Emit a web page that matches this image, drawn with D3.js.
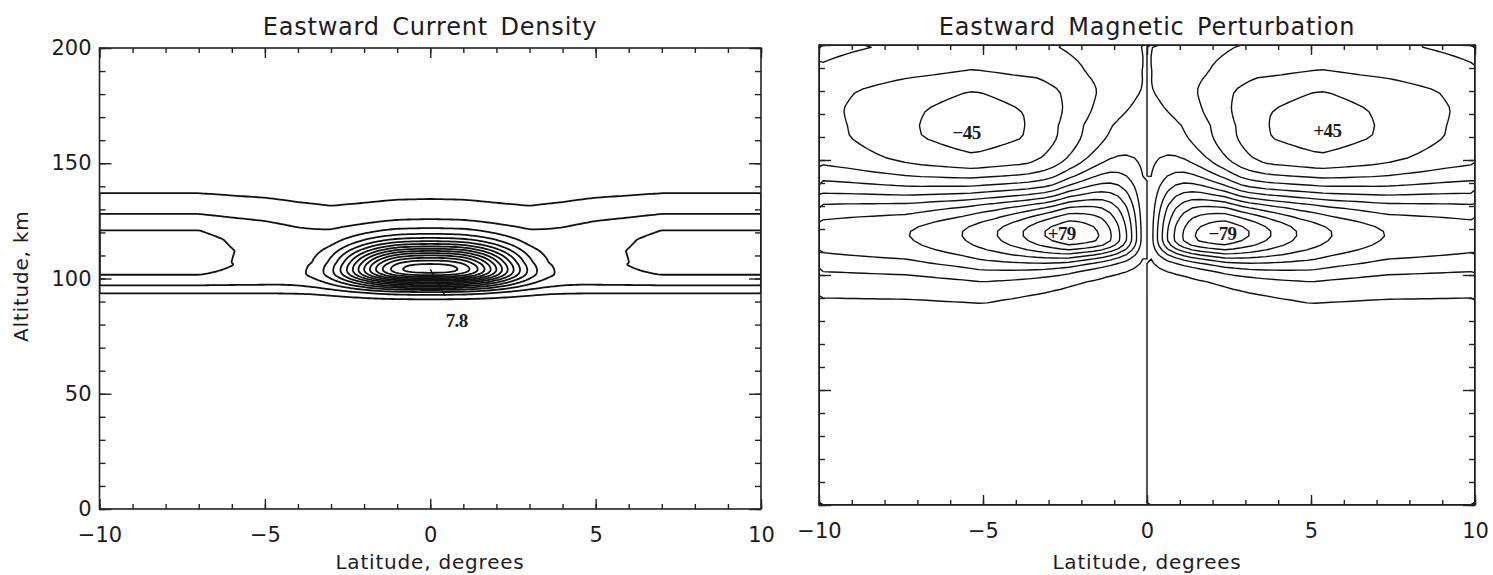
<!DOCTYPE html>
<html>
<head>
<meta charset="utf-8">
<script src="https://cdn.jsdelivr.net/npm/d3@7"></script>
<style>
  html, body { margin: 0; background: #fff; }
  svg text { font-family: "DejaVu Sans", sans-serif; fill: #1c1c1c; }
  .contour { fill: none; stroke: #111; stroke-linejoin: round; }
  .frame { fill: none; stroke: #222; stroke-width: 1.6; }
  .axis path { display: none; }
  .axis line { stroke: #222; stroke-width: 1.4; }
  .lbl { font-family: "Liberation Serif", serif !important; font-weight: bold; font-size: 19px; letter-spacing: -0.6px; }
</style>
</head>
<body>
<svg id="chart" width="1493" height="575"></svg>
<script>
// ---------------- axes ----------------
const latMajorTicks = [-10, -5, 0, 5, 10];
const latMinorTicks = d3.range(-10, 11, 1);
const altMajorTicks = [0, 50, 100, 150, 200];
const altMinorTicks = d3.range(0, 201, 10);

// ---------------- eastward current density ----------------
const currentLevels = d3.range(0.5, 7.51, 0.5);
// layer current at the outer latitudes (altitude profile)
const bandAltKm   = [84, 90, 93.6, 97, 101.5, 106, 112, 117, 121, 128, 137, 146];
const bandCurrent = [0, 0.2, 0.5, 1.0, 1.5, 1.66, 1.68, 1.62, 1.5, 1.0, 0.5, 0];
// relative strength of the layer with distance from the dip equator
const bandLatDeg    = [0, 1, 2, 3, 4, 5, 5.75, 6, 6.5, 7, 10];
const bandLatFactor = [0.78, 0.76, 0.68, 0.62, 0.7, 0.82, 0.88, 0.9, 0.95, 1.0, 1.0];
// equatorial electrojet core
const jetPeak = 7.8;
const jetLabel = "7.8";
const jetCentre = [0, 104];              // latitude, altitude km
const jetHalfWidthDeg = 2.5;
const jetFlatness = 2.8;
const jetScaleKm = [7.5, 5];             // above, below the core
const jetLabelAt = [0.8, 79];            // where "7.8" is written
const jetLeaderEnd = [0.45, 92.5];

// ---------------- eastward magnetic perturbation (nT) ----------------
const fieldLevels = d3.range(-70, 71, 10);
const lobePeaks  = [-45, 45, 79, -79];
const lobeLabels = ["\u221245", "+45", "+79", "\u221279"];
const lobeLabelLat = [-5.5, 5.5, -2.6, 2.3];
const lobeLabelAlt = [162, 163, 118, 118];
const lowFloorNT = 3;
// lower lobe (west side sign), strength vs distance from 0 deg
const lowLatDeg = [0, 0.25, 0.5, 0.75, 1, 1.25, 1.5, 2, 2.4, 3, 3.8, 4.6, 5.7, 7.3, 10];
const lowNT     = [0, 18, 36, 50, 60, 68, 74, 80, 82, 75, 63, 53, 43, 33, 27.4];
const lowShapeLat  = [0, 1, 2, 3, 5, 10];
const lowCentreKm  = [116, 116, 117, 118, 118, 117.5];
const lowBelowKm   = [6, 6.5, 8, 10, 12.8, 13];
const lowAboveKm   = [20, 19, 15, 12, 13, 14];
// upper lobe, strength vs distance from 0 deg at its core altitude
const upLatDeg = [0, 0.5, 1, 1.5, 1.9, 2.7, 3.7, 5.3, 6.9, 9.1, 10];
const upNT     = [0, 4, 8.5, 13, 17, 27, 37, 42, 37, 27, 24];
const upAltKm  = [100, 120, 130, 140, 150, 160, 165, 172, 180, 188, 200];
const upAltRel = [0, 0.024, 0.17, 0.53, 0.87, 0.995, 1, 0.97, 0.88, 0.66, 0.48];
const upCoreLat = 5.3, upCoreAlt = 165, upSpreadTop = 1.4;

// ---------------- layout ----------------
const svg = d3.select("#chart");
const panels = [
  { x0: 99.5, x1: 761, y0: 48, y1: 509, title: "Eastward Current Density", yLabels: true, cx: 430, lw: 1.8 },
  { x0: 819, x1: 1475, y0: 45, y1: 505, title: "Eastward Magnetic Perturbation", yLabels: false, cx: 1147, lw: 1.4 }
];
panels.forEach(p => {
  p.x = d3.scaleLinear().domain([-10, 10]).range([p.x0, p.x1]);
  p.y = d3.scaleLinear().domain([0, 200]).range([p.y1, p.y0]);
});

const lin = (xs, ys) => d3.scaleLinear().domain(xs).range(ys).clamp(true);

// ---- current density field ----
const bandProfile = lin(bandAltKm, bandCurrent);
const bandLat = lin(bandLatDeg, bandLatFactor);
function jetShape(lat, h) {
  const s = Math.abs(lat - jetCentre[0]);
  const dz = h - jetCentre[1];
  const sc = dz > 0 ? jetScaleKm[0] : jetScaleKm[1];
  return Math.exp(-Math.pow(s / jetHalfWidthDeg, jetFlatness)) * Math.exp(-0.5 * (dz / sc) * (dz / sc));
}
function bandCurrentAt(lat, h) {
  const w = Math.min(1, Math.max(0, (h - 95) / 12));
  return bandProfile(h) * (1 - (1 - bandLat(Math.abs(lat))) * w);
}

// ---- magnetic perturbation field ----
const lowStrength = lin(lowLatDeg, lowNT);
const lowCentre = lin(lowShapeLat, lowCentreKm);
const lowBelow = lin(lowShapeLat, lowBelowKm);
const lowAbove = lin(lowShapeLat, lowAboveKm);
const upStrength = lin(upLatDeg, upNT);
const upAlt = lin(upAltKm, upAltRel);
function lowLobe(s, h) {
  const c = lowCentre(s);
  const sc = h < c ? lowBelow(s) : lowAbove(s);
  const dz = (h - c) / sc;
  return lowStrength(s) * Math.exp(-0.5 * dz * dz);
}
function upLobe(s, h) {
  const k = 1 + (upSpreadTop - 1) * Math.min(1, Math.max(0, (h - upCoreAlt) / (200 - upCoreAlt)));
  const sp = upCoreLat + (s - upCoreLat) / k;
  return upStrength(sp) * upAlt(h);
}

function sample(f, dLat, dAlt) {
  const nx = Math.round(20 / dLat), ny = Math.round(200 / dAlt);
  const values = new Float64Array(nx * ny);
  for (let j = 0; j < ny; j++) {
    const h = (j + 0.5) * dAlt;
    for (let i = 0; i < nx; i++) values[j * nx + i] = f(-10 + (i + 0.5) * dLat, h);
  }
  return { nx, ny, values, dLat, dAlt };
}
function extreme(grid, pick, sign) {
  let best = -Infinity;
  for (let j = 0; j < grid.ny; j++) {
    const h = (j + 0.5) * grid.dAlt;
    for (let i = 0; i < grid.nx; i++) {
      const lat = -10 + (i + 0.5) * grid.dLat;
      if (pick(lat, h)) best = Math.max(best, sign * grid.values[j * grid.nx + i]);
    }
  }
  return sign * best;
}

// current grid, with the core scaled so the maximum equals the labelled peak
let jetAmp = jetPeak - bandCurrentAt(0, jetCentre[1]);
let currentGrid;
for (let it = 0; it < 4; it++) {
  currentGrid = sample((lat, h) => bandCurrentAt(lat, h) + jetAmp * jetShape(lat, h), 0.1, 0.5);
  const mx = extreme(currentGrid, () => true, 1);
  jetAmp += jetPeak - mx;
}

// perturbation grid, lobes scaled so their extremes equal the labelled values
let aLow = 1, aUp = 1;
const fieldAt = (lat, h) => {
  const s = Math.abs(lat);
  const west = aLow * lowLobe(s, h) - aUp * upLobe(s, h) - lowFloorNT;
  return lat < 0 ? west : -west;
};
let fieldGrid;
for (let it = 0; it < 8; it++) {
  fieldGrid = sample(fieldAt, 0.25, 2);
  const hi = extreme(fieldGrid, (lat, h) => lat < 0 && h < 140, 1);
  const lo = extreme(fieldGrid, (lat, h) => lat < 0 && h >= 140, -1);
  aLow *= lobePeaks[2] / hi;
  aUp *= lobePeaks[0] / lo;
}

// ---------------- drawing ----------------
function drawContours(p, grid, levels) {
  const cs = d3.contours().size([grid.nx, grid.ny]).thresholds(levels)(grid.values);
  const proj = d3.geoTransform({
    point(cx, cy) { this.stream.point(p.x(-10 + cx * grid.dLat), p.y(cy * grid.dAlt)); }
  });
  const path = d3.geoPath(proj);
  const clipId = "clip" + Math.round(p.x0);
  svg.append("clipPath").attr("id", clipId).append("rect")
    .attr("x", p.x0).attr("y", p.y0).attr("width", p.x1 - p.x0).attr("height", p.y1 - p.y0);
  svg.append("g").attr("clip-path", `url(#${clipId})`)
    .selectAll("path").data(cs).join("path")
    .attr("class", "contour").attr("stroke-width", p.lw).attr("d", path);
}

function drawAxes(p) {
  const g = svg.append("g");
  g.append("rect").attr("class", "frame")
    .attr("x", p.x0).attr("y", p.y0).attr("width", p.x1 - p.x0).attr("height", p.y1 - p.y0);
  const put = (axis, tx, ty) => g.append("g").attr("class", "axis")
    .attr("transform", `translate(${tx},${ty})`).call(axis);
  // minor ticks
  put(d3.axisBottom(p.x).tickValues(latMinorTicks).tickSize(-5).tickFormat(""), 0, p.y1);
  put(d3.axisTop(p.x).tickValues(latMinorTicks).tickSize(-5).tickFormat(""), 0, p.y0);
  put(d3.axisLeft(p.y).tickValues(altMinorTicks).tickSize(-6).tickFormat(""), p.x0, 0);
  put(d3.axisRight(p.y).tickValues(altMinorTicks).tickSize(-6).tickFormat(""), p.x1, 0);
  // major ticks and their labels
  const fmt = d => d < 0 ? "\u2212" + Math.abs(d) : String(d);
  const xb = put(d3.axisBottom(p.x).tickValues(latMajorTicks).tickSize(-10).tickPadding(18).tickFormat(fmt), 0, p.y1);
  xb.selectAll("text").attr("font-size", 21).attr("fill", "#1c1c1c");
  put(d3.axisTop(p.x).tickValues(latMajorTicks).tickSize(-10).tickFormat(""), 0, p.y0);
  const yl = put(d3.axisLeft(p.y).tickValues(altMajorTicks).tickSize(-12).tickPadding(8)
    .tickFormat(p.yLabels ? fmt : ""), p.x0, 0);
  yl.selectAll("text").attr("font-size", 21).attr("fill", "#1c1c1c");
  put(d3.axisRight(p.y).tickValues(altMajorTicks).tickSize(-12).tickFormat(""), p.x1, 0);

  svg.append("text").attr("x", p.cx).attr("y", 35).attr("text-anchor", "middle")
    .attr("font-size", 24).attr("letter-spacing", 0.8).attr("word-spacing", 4).text(p.title);
  svg.append("text").attr("x", p.cx).attr("y", 569).attr("text-anchor", "middle")
    .attr("font-size", 20).attr("letter-spacing", 0.8).text("Latitude, degrees");
}

drawContours(panels[0], currentGrid, currentLevels);
drawContours(panels[1], fieldGrid, fieldLevels);
panels.forEach(drawAxes);

svg.append("text").attr("transform", `translate(28,${panels[0].y(101)}) rotate(-90)`)
  .attr("text-anchor", "middle").attr("font-size", 20).attr("letter-spacing", 0.8).text("Altitude, km");

// peak annotation on the current panel
const pL = panels[0];
svg.append("line")
  .attr("x1", pL.x(jetCentre[0])).attr("y1", pL.y(jetCentre[1]))
  .attr("x2", pL.x(jetLeaderEnd[0])).attr("y2", pL.y(jetLeaderEnd[1]))
  .attr("stroke", "#111").attr("stroke-width", 1.5);
svg.append("text").attr("class", "lbl")
  .attr("x", pL.x(jetLabelAt[0])).attr("y", pL.y(jetLabelAt[1]))
  .attr("text-anchor", "middle").text(jetLabel);

// lobe extremes on the perturbation panel
const pR = panels[1];
svg.append("g").selectAll("text").data(lobeLabels).join("text")
  .attr("class", "lbl")
  .attr("x", (d, i) => pR.x(lobeLabelLat[i]))
  .attr("y", (d, i) => pR.y(lobeLabelAlt[i]))
  .attr("dy", "0.35em")
  .attr("text-anchor", "middle")
  .text(d => d);
</script>
</body>
</html>
